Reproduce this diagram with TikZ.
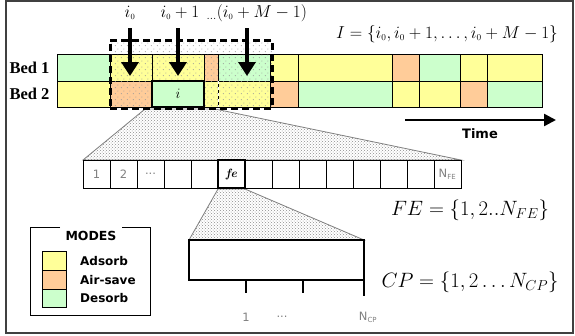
\documentclass[tikz,border=0pt]{standalone}
\usepackage{fontspec}
\setsansfont{DejaVu Sans}
\newfontfamily\bedfont{Liberation Serif}
\usetikzlibrary{patterns,patterns.meta,arrows.meta}
\definecolor{cY}{HTML}{FFFF99}
\definecolor{cO}{HTML}{FFCC99}
\definecolor{cG}{HTML}{CCFFCC}
\tikzdeclarepattern{
  name=sparsedots,
  type=uncolored,
  bounding box={(0pt,0pt) and (6pt,6pt)},
  tile size={(6pt,6pt)},
  code={\fill (1.5pt,1.5pt) circle (0.6pt); \fill (4.5pt,4.5pt) circle (0.6pt);}
}
\begin{document}
\begin{tikzpicture}[x=1pt,y=-1pt,
  cell/.style={draw=black,line width=1pt},
  bigarrow/.style={line width=3.5pt,-{Triangle[width=17pt,length=14pt]}},
  zoomfan/.style={pattern=crosshatch dots,pattern color=gray!90,draw=gray,line width=0.8pt},
  toplabel/.style={font=\fontsize{17}{19}\selectfont},
  bedlabel/.style={font=\bedfont\bfseries\fontsize{16.5}{18}\selectfont,anchor=east},
  eqlabel/.style={font=\fontsize{20}{22}\selectfont},
  graytext/.style={font=\sffamily\fontsize{11.5}{13}\selectfont,text=gray},
  legendtext/.style={font=\sffamily\bfseries\fontsize{12}{14}\selectfont,anchor=west,inner sep=0pt},
  swatch/.style={draw=black,line width=0.8pt}]
\useasboundingbox (0,0) rectangle (575,335);
\draw[line width=1.2pt,black!75] (6,1) rectangle (573,333);

% Bed rows
\foreach \a/\b/\c in {57/110/cG,110/152/cY,152/204/cY,204/218/cO,218/270/cG,270/298/cY,298/392/cY,392/419/cO,419/460/cG,460/487/cY,487/542/cY}
  \filldraw[cell,fill=\c] (\a,54) rectangle (\b,81);
\foreach \a/\b/\c in {57/110/cY,110/152/cO,152/204/cG,204/218/cY,218/270/cY,270/298/cO,298/392/cG,392/419/cY,419/460/cY,460/487/cO,487/542/cG}
  \filldraw[cell,fill=\c] (\a,81) rectangle (\b,107);
\node[bedlabel] (bed1) at (53,67.5) {Bed 1};
\node[bedlabel] (bed2) at (53,94) {Bed 2};

% zoom fan to finite elements
\filldraw[zoomfan] (145,109) -- (215,109) -- (461,160) -- (83,160) -- cycle;

% dashed window
\fill[pattern=sparsedots,pattern color=gray!80] (110,40) rectangle (272,108);
\draw[white,line width=1pt,dashed] (218,81) -- (218,107);
\node[draw=black,line width=2.2pt,fill=cG,minimum width=52pt,minimum height=26pt,inner sep=0pt,font=\fontsize{14}{16}\selectfont] (ibox) at (178,94) {$i$};
\node[draw=black,line width=3pt,dash pattern=on 7pt off 4pt,minimum width=162pt,minimum height=68pt,inner sep=0pt] (win) at (191,74) {};

% arrows and labels
\node[toplabel] (l0) at (130,13) {$i_{\scriptscriptstyle 0}$};
\node[toplabel] (l1) at (180,13) {$i_{\scriptscriptstyle 0}+1$};
\node[toplabel,anchor=west] (l2) at (203,13) {$_{\dots}(i_{\scriptscriptstyle 0}+M-1)$};
\coordinate (a0) at (130,28); \coordinate (b0) at (130,76);
\coordinate (a1) at (178,28); \coordinate (b1) at (178,76);
\coordinate (a2) at (247,28); \coordinate (b2) at (247,76);
\draw[bigarrow] (a0) -- (b0);
\draw[bigarrow] (a1) -- (b1);
\draw[bigarrow] (a2) -- (b2);
\node[font=\fontsize{18}{20}\selectfont] (Ieq) at (447,34) {$I=\{i_{\scriptscriptstyle 0},i_{\scriptscriptstyle 0}+1,\ldots,i_{\scriptscriptstyle 0}+M-1\}$};

% time arrow
\coordinate (t0) at (405,120); \coordinate (t1) at (556,120);
\draw[line width=2.5pt,-{Triangle[width=12pt,length=12pt]}] (t0) -- (t1);
\node[font=\sffamily\bfseries\fontsize{13}{15}\selectfont] (time) at (480,134) {Time};

% finite element row
\foreach \k in {0,...,13}
  \draw[cell] ({83+27*\k},160) rectangle ({110+27*\k},188);
\node[graytext] at (96.5,174) {1};
\node[graytext] at (123.5,174) {2};
\node[graytext] at (150.5,174) {...};
\node[graytext] at (447.5,174) {N\textsubscript{\fontsize{7}{8}\selectfont FE}};
\filldraw[zoomfan] (218,189) -- (245,189) -- (364,240) -- (189,240) -- cycle;
\node[draw=black,line width=2pt,minimum width=27pt,minimum height=28pt,inner sep=0pt,font=\bfseries\itshape\fontsize{12}{13}\selectfont] (fe) at (231.5,174) {fe};

% collocation box
\node[draw=black,line width=1.5pt,minimum width=175pt,minimum height=40pt,inner sep=0pt] (cp) at (276.5,260) {};
\draw[line width=1.2pt] (246,280) -- (246,293);
\draw[line width=1.2pt] (303,280) -- (303,293);
\draw[line width=1.2pt] (364,280) -- (364,296);
\node[graytext] at (246,317) {1};
\node[graytext] at (282,317) {...};
\node[graytext] at (368,317) {N\textsubscript{\fontsize{7}{8}\selectfont CP}};

% equations
\node[eqlabel] (FEeq) at (470,210) {$FE=\{1,2..N_{FE}\}$};
\node[eqlabel] (CPeq) at (470,282) {$CP=\{1,2\ldots N_{CP}\}$};

% legend
\draw[line width=1pt] (60,227) -- (30,227) -- (30,315) -- (150,315) -- (150,227) -- (122,227);
\node[font=\sffamily\bfseries\fontsize{12.5}{14}\selectfont] (modes) at (91,236) {MODES};
\filldraw[swatch,fill=cY] (42,251) rectangle (66,270);
\filldraw[swatch,fill=cO] (42,270) rectangle (66,289);
\filldraw[swatch,fill=cG] (42,289) rectangle (66,307);
\node[legendtext] at (80,261) {Adsorb};
\node[legendtext] at (80,280) {Air-save};
\node[legendtext] at (80,298) {Desorb};
\end{tikzpicture}
\end{document}
